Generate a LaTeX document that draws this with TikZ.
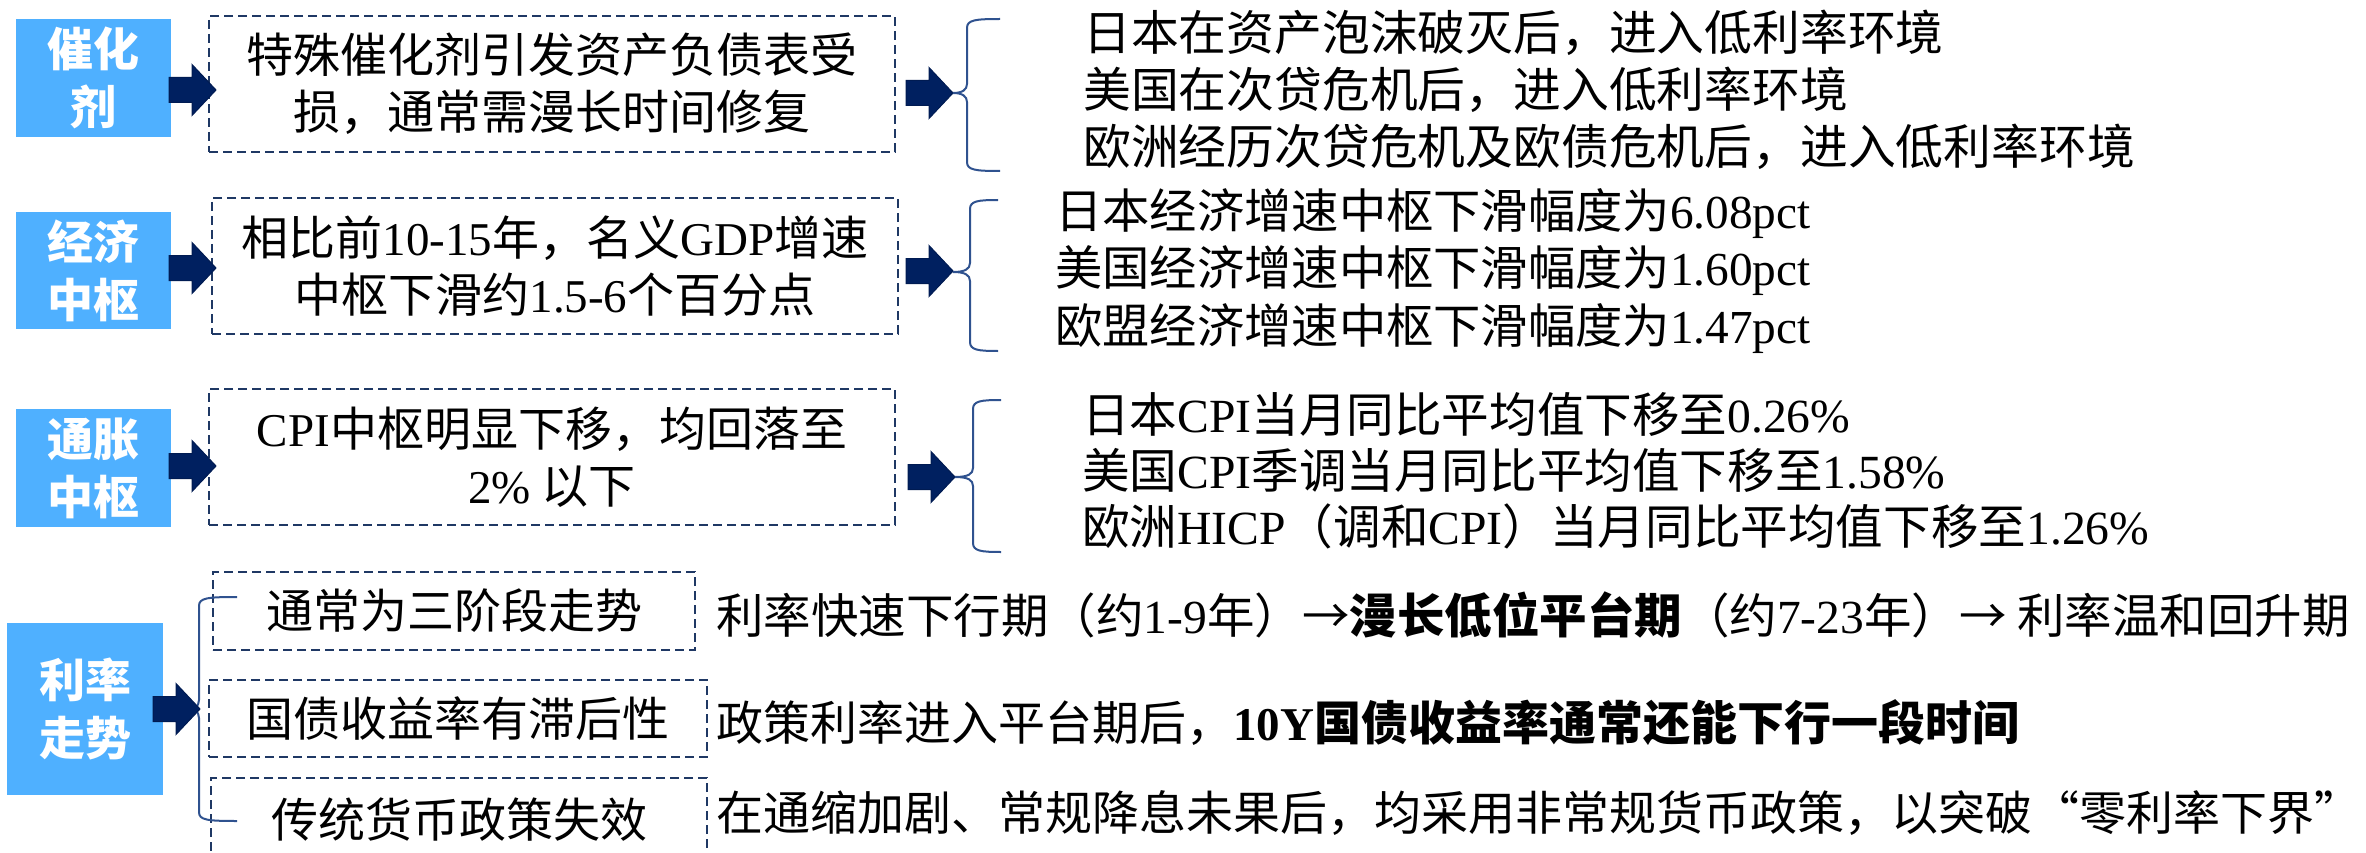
\documentclass[tikz,border=0pt]{standalone}
\usepackage{fontspec}
\newfontfamily\cjk{Noto Sans CJK SC}
\newfontfamily\tnr{Liberation Serif}
\newcommand\en[1]{{\tnr #1}}
\definecolor{labelblue}{RGB}{79,176,255}
\definecolor{navy}{RGB}{0,32,96}
\definecolor{dashnavy}{RGB}{31,56,100}
\definecolor{bracecol}{RGB}{47,82,143}
\newcommand\bracedraw[6]{% xline xend top bot mid tip
  \draw[brace] (#2,#3) .. controls (#1+8,#3) and (#1,#3+1) .. (#1,#3+9)
    -- (#1,#5-9) .. controls (#1,#5-3) and (#1-5,#5) .. (#6,#5)
    .. controls (#1-5,#5) and (#1,#5+3) .. (#1,#5+9)
    -- (#1,#4-9) .. controls (#1,#4-1) and (#1+8,#4) .. (#2,#4);}
\tikzset{
  lab/.style={fill=labelblue, text=white, font=\cjk\bfseries\fontsize{46}{58}\selectfont,
    align=center, inner sep=0pt, minimum width=155pt, minimum height=118pt},
  dbox/.style={draw=dashnavy, line width=2.5pt, dash pattern=on 9pt off 5pt, inner sep=0pt},
  txt/.style={font=\cjk\fontsize{47}{57}\selectfont, inner sep=0pt, text=black},
  brace/.style={draw=bracecol, line width=2pt},
  barrow/.pic={\filldraw[fill=navy, draw=navy!85!black, line width=1pt]
    (-47,-12.5) -- (-24,-12.5) -- (-24,-25.5) -- (0,0) -- (-24,25.5) -- (-24,12.5) -- (-47,12.5) -- cycle;}
}
\begin{document}
\begin{tikzpicture}[x=1pt,y=-1pt]
\useasboundingbox (0,0) rectangle (2366,853);

% ---------- Row 1 ----------
\node[lab] (lab1) at (93.5,78) {催化\\剂};
\node[dbox, minimum width=686pt, minimum height=136pt] (box1) at (552,84) {};
\node[txt, align=center] (t1) at (box1.center) {特殊催化剂引发资产负债表受\\损，通常需漫长时间修复};
\coordinate (a1) at (216,90);
\pic at (a1) {barrow};
\coordinate (b1) at (953,93);
\pic at (b1) {barrow};
\bracedraw{967}{1000}{19}{171}{93}{953}
\node[txt, font=\cjk\fontsize{47.8}{57}\selectfont, align=left, anchor=west] (r1) at (1083,90) {日本在资产泡沫破灭后，进入低利率环境\\美国在次贷危机后，进入低利率环境\\欧洲经历次贷危机及欧债危机后，进入低利率环境};

% ---------- Row 2 ----------
\node[lab, minimum height=117pt] (lab2) at (93.5,270.5) {经济\\中枢};
\node[dbox, minimum width=686pt, minimum height=136pt] (box2) at (555,266) {};
\node[txt, align=center] (t2) at (box2.center) {相比前\en{10-15}年，名义\en{GDP}增速\\中枢下滑约\en{1.5-6}个百分点};
\coordinate (a2) at (216,268);
\pic at (a2) {barrow};
\coordinate (b2) at (953,271);
\pic at (b2) {barrow};
\bracedraw{970}{998}{200}{351}{272}{953}
\node[txt, font=\cjk\fontsize{47.3}{57.5}\selectfont, align=left, anchor=west] (r2) at (1055,271) {日本经济增速中枢下滑幅度为\en{6.08pct}\\美国经济增速中枢下滑幅度为\en{1.60pct}\\欧盟经济增速中枢下滑幅度为\en{1.47pct}};

% ---------- Row 3 ----------
\node[lab] (lab3) at (93.5,468) {通胀\\中枢};
\node[dbox, minimum width=686pt, minimum height=136pt] (box3) at (552,457) {};
\node[txt, align=center] (t3) at (box3.center) {\en{CPI}中枢明显下移，均回落至\\\en{2\%} 以下};
\coordinate (a3) at (216,466);
\pic at (a3) {barrow};
\coordinate (b3) at (955,477);
\pic at (b3) {barrow};
\bracedraw{973}{1001}{400}{552}{477}{955}
\node[txt, font=\cjk\fontsize{47.6}{56}\selectfont, align=left, anchor=west] (r3) at (1082,471) {日本\en{CPI}当月同比平均值下移至\en{0.26\%}\\美国\en{CPI}季调当月同比平均值下移至\en{1.58\%}\\欧洲\en{HICP}（调和\en{CPI}）当月同比平均值下移至\en{1.26\%}};

% ---------- Row 4 ----------
\node[lab, minimum width=156pt, minimum height=172pt] (lab4) at (85,709) {利率\\走势};
\node[dbox, minimum width=482pt, minimum height=78pt] (c1) at (454,611) {};
\node[txt] (u1) at (c1.center) {通常为三阶段走势};
\node[dbox, minimum width=498pt, minimum height=77pt] (c2) at (458,718.5) {};
\node[txt] (u2) at (c2.center) {国债收益率有滞后性};
\node[dbox, minimum width=496pt, minimum height=78pt] (c3) at (459,817) {};
\node[txt] (u3) at (459,820) {传统货币政策失效};
\bracedraw{199}{237}{597}{821}{709}{195}
\coordinate (a4) at (200,709);
\pic at (a4) {barrow};
\node[txt, font=\cjk\fontsize{47.5}{57}\selectfont, anchor=west] (v1) at (716,615) {利率快速下行期（约\en{1-9}年）→{\bfseries 漫长低位平台期}（约\en{7-23}年）→ 利率温和回升期};
\node[txt, anchor=west] (v2) at (716,723) {政策利率进入平台期后，{\bfseries\en{10Y}国债收益率通常还能下行一段时间}};
\node[txt, anchor=west] (v3) at (716,813) {在通缩加剧、常规降息未果后，均采用非常规货币政策，以突破“零利率下界”};
\end{tikzpicture}
\end{document}
